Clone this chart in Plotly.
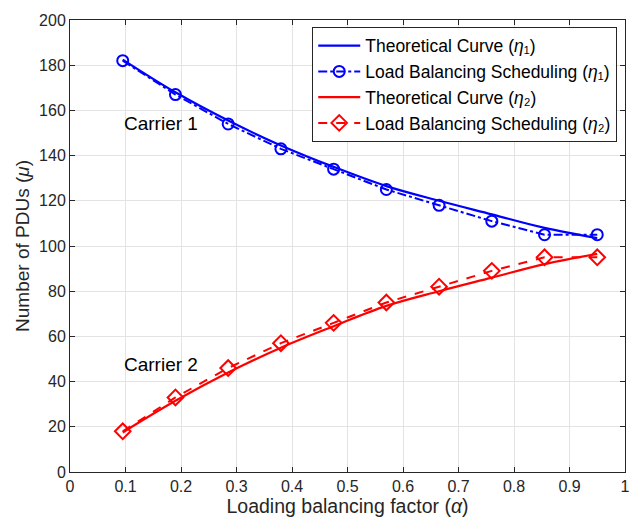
import plotly.graph_objects as go

alpha = [0.095, 0.19, 0.285, 0.38, 0.475, 0.57, 0.665, 0.76, 0.855, 0.95]
theory_eta1 = [182.5, 168, 155.5, 144.5, 135, 126.5, 120, 114, 108, 103.5]
lb_eta1 = [182, 167, 154, 143, 134, 125, 118, 111, 105, 105]
theory_eta2 = [17.5, 31.5, 44, 55, 64.5, 73.5, 80, 86, 92, 96.5]
lb_eta2 = [18, 33, 46, 57, 66, 75, 82, 89, 95, 95]

BLUE = "#0000ff"
RED = "#ff0000"
FONT = "Liberation Sans, Arial, Helvetica, sans-serif"

fig = go.Figure()
fig.add_trace(go.Scatter(x=alpha, y=theory_eta1, mode="lines", line=dict(color=BLUE, width=2.2, shape="spline"),
                         name="Theoretical Curve (<i>η</i>₁)"))
fig.add_trace(go.Scatter(x=alpha, y=lb_eta1, mode="lines+markers", line=dict(color=BLUE, width=2, dash="dashdot"),
                         marker=dict(symbol="circle-open", size=11, color=BLUE, line=dict(width=2, color=BLUE)),
                         name="Load Balancing Scheduling (<i>η</i>₁)"))
fig.add_trace(go.Scatter(x=alpha, y=theory_eta2, mode="lines", line=dict(color=RED, width=2.2, shape="spline"),
                         name="Theoretical Curve (<i>η</i>₂)"))
fig.add_trace(go.Scatter(x=alpha, y=lb_eta2, mode="lines+markers", line=dict(color=RED, width=2, dash="dash"),
                         marker=dict(symbol="diamond-open", size=12, color=RED, line=dict(width=2, color=RED)),
                         name="Load Balancing Scheduling (<i>η</i>₂)"))

fig.add_annotation(x=0.094, y=154, xref="x", yref="y", text="Carrier 1", showarrow=False,
                   xanchor="left", yanchor="middle", font=dict(size=19, color="black", family=FONT))
fig.add_annotation(x=0.094, y=47.5, xref="x", yref="y", text="Carrier 2", showarrow=False,
                   xanchor="left", yanchor="middle", font=dict(size=19, color="black", family=FONT))

axis_common = dict(showgrid=True, gridcolor="#e3e3e3", gridwidth=1, showline=True, linecolor="#262626",
                   linewidth=1, mirror="ticks", ticks="inside", ticklen=5, tickcolor="#262626",
                   zeroline=False, tickfont=dict(size=16, color="#262626", family=FONT))

fig.update_layout(
    width=642, height=523,
    margin=dict(l=70, r=17, t=12, b=50),
    plot_bgcolor="white", paper_bgcolor="white",
    font=dict(family=FONT, color="#262626"),
    xaxis=dict(range=[0, 1], tickvals=[0, 0.1, 0.2, 0.3, 0.4, 0.5, 0.6, 0.7, 0.8, 0.9, 1],
               ticktext=["0", "0.1", "0.2", "0.3", "0.4", "0.5", "0.6", "0.7", "0.8", "0.9", "1"],
               title=dict(text="Loading balancing factor (<i>α</i>)", font=dict(size=19.5, color="#262626"), standoff=2),
               **axis_common),
    yaxis=dict(range=[0, 200], tickvals=list(range(0, 201, 20)),
               title=dict(text="Number of PDUs (<i>μ</i>)", font=dict(size=19, color="#262626"), standoff=4),
               **axis_common),
    legend=dict(x=0.986, y=0.985, xanchor="right", yanchor="top", bgcolor="white",
                bordercolor="#262626", borderwidth=1, font=dict(size=17.5, color="black", family=FONT),
                tracegroupgap=0, itemwidth=42),
    showlegend=True,
)

fig.write_html("out.html")
